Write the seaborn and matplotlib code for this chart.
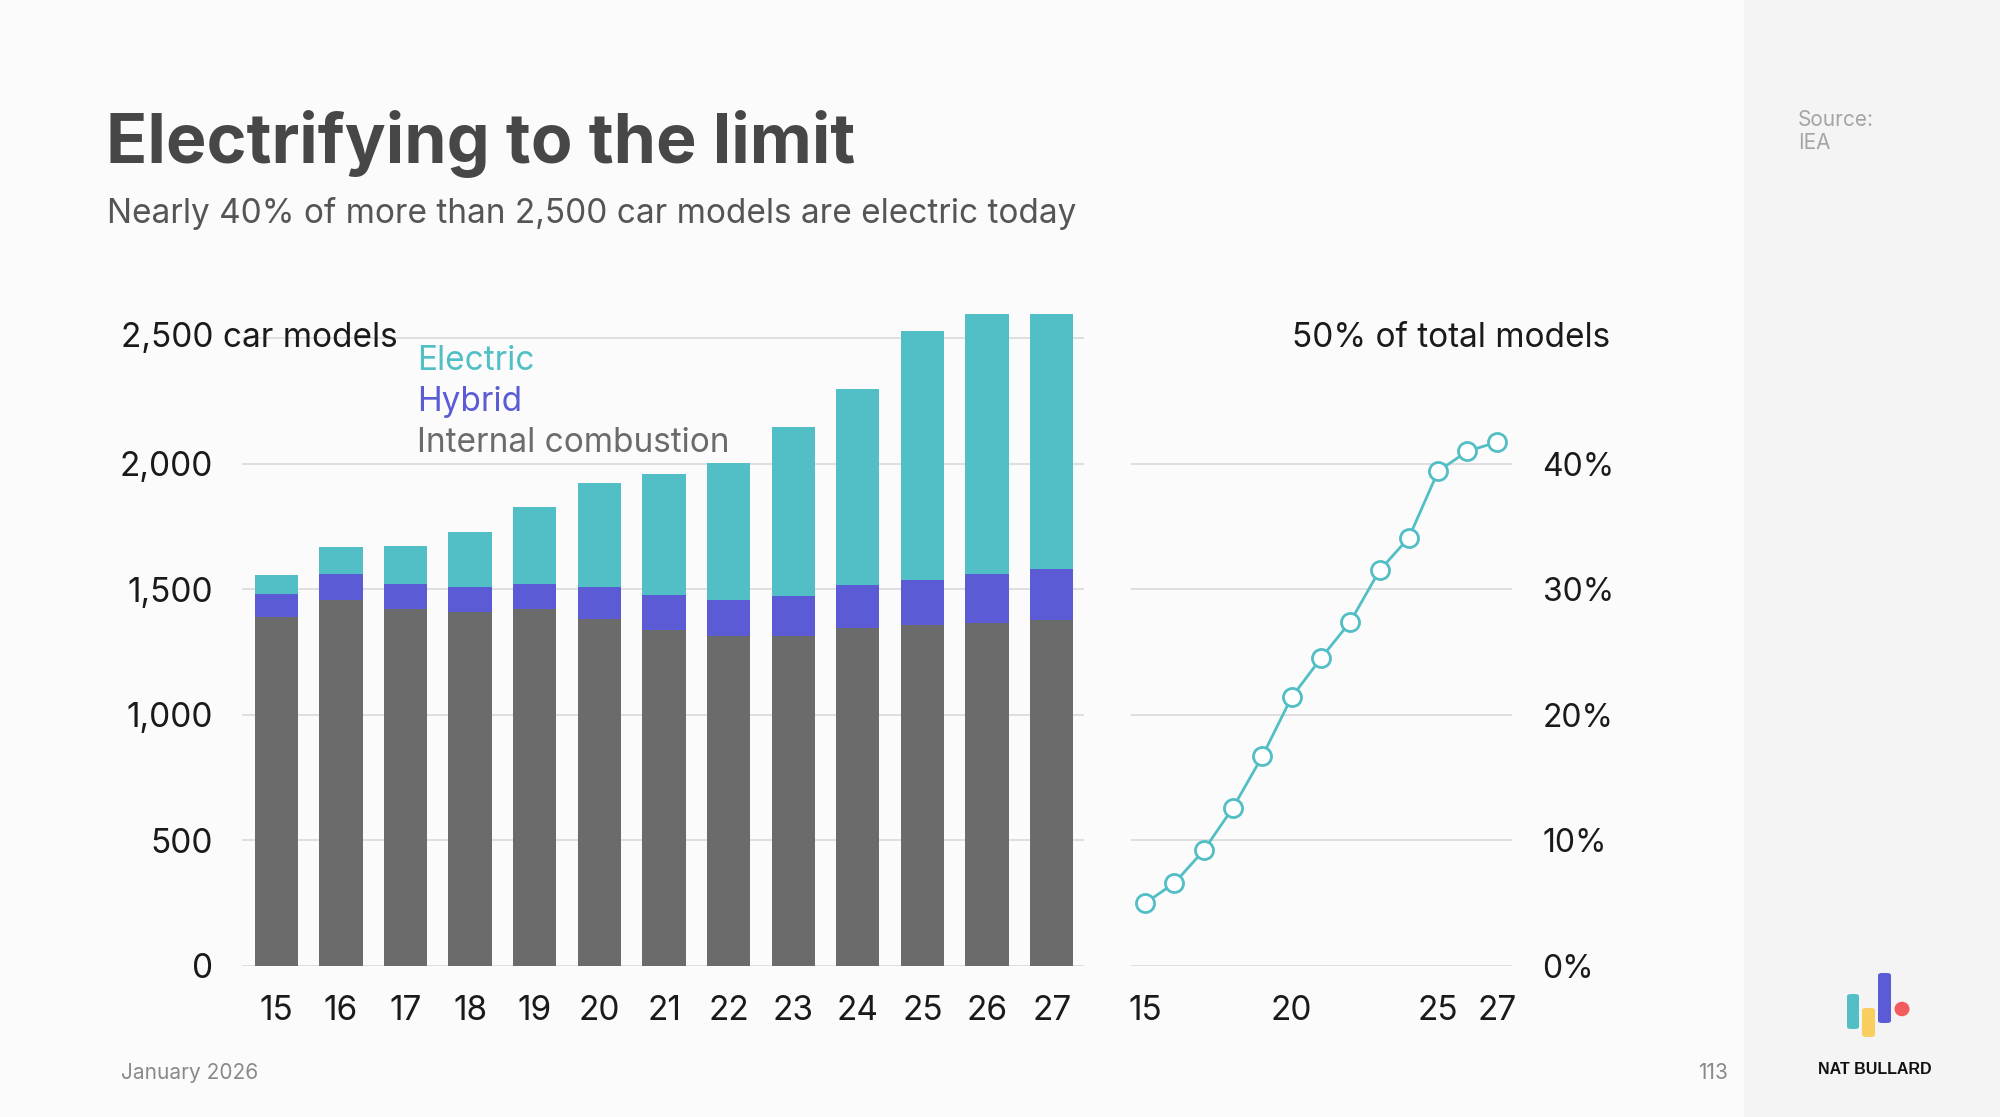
import matplotlib
matplotlib.use('Agg')
import matplotlib.pyplot as plt
import matplotlib.transforms as mtransforms
from matplotlib.patches import Rectangle, FancyBboxPatch, Ellipse
import seaborn as sns
import pandas as pd

# data
years = ['15', '16', '17', '18', '19', '20', '21', '22', '23', '24', '25', '26', '27']
ice = [1390, 1459, 1420, 1411, 1420, 1381, 1336, 1313, 1313, 1347, 1358, 1367, 1377]
hybrid = [92, 100, 101, 96, 101, 126, 143, 144, 162, 169, 179, 192, 203]
electric = [75, 108, 152, 221, 306, 415, 478, 547, 671, 781, 991, 1038, 1017]

share_years = [15, 16, 17, 18, 19, 20, 21, 22, 23, 24, 25, 26, 27]
electric_share = [5.0, 6.6, 9.2, 12.6, 16.7, 21.4, 24.5, 27.4, 31.5, 34.1, 39.4, 41.0, 41.7]

left_ticks = [0, 500, 1000, 1500, 2000, 2500]
left_labels = ['0', '500', '1,000', '1,500', '2,000', '']
right_ticks = [0, 10, 20, 30, 40, 50]
right_labels = ['0%', '10%', '20%', '30%', '40%', '']
right_xticks = [15, 20, 25, 27]

TEAL = '#52bec5'
BLUE = '#5a5bd5'
GRAY = '#6b6b6b'
GRID = '#dcdcdc'
INK = '#1a1a1a'

df = pd.DataFrame({'year': years, 'ice': ice, 'hybrid': hybrid, 'electric': electric})
df['ice_hybrid'] = df['ice'] + df['hybrid']
df['total'] = df['ice_hybrid'] + df['electric']
share_df = pd.DataFrame({'year': share_years, 'share': electric_share})

sns.set_theme(style='white')
plt.rcParams['font.family'] = ['Inter', 'DejaVu Sans']

fig = plt.figure(figsize=(20, 11.17), dpi=100)
fig.patch.set_facecolor('#fbfbfb')
fig.patches.append(Rectangle((0.872, 0), 0.128, 1, transform=fig.transFigure,
                             facecolor='#f4f4f4', edgecolor='none', zorder=0))

# stacked bars
ax = fig.add_axes([0.121, 0.1352, 0.421, 0.6071])
ax.set_facecolor('none')
sns.barplot(data=df, x='year', y='total', color=TEAL, width=0.67, saturation=1,
            errorbar=None, linewidth=0, ax=ax)
sns.barplot(data=df, x='year', y='ice_hybrid', color=BLUE, width=0.67, saturation=1,
            errorbar=None, linewidth=0, ax=ax)
sns.barplot(data=df, x='year', y='ice', color=GRAY, width=0.67, saturation=1,
            errorbar=None, linewidth=0, ax=ax)
ax.set_ylim(0, 2700)
ax.set_xlim(-0.53, 12.5)
ax.set_yticks(left_ticks)
ax.set_yticklabels(left_labels)
ax.yaxis.grid(True, color=GRID, linewidth=1.3)
ax.set_axisbelow(True)
ax.set_xlabel('')
ax.set_ylabel('')
sns.despine(ax=ax, left=True, bottom=True)
ax.tick_params(axis='y', length=0, pad=21, labelsize=24, labelcolor=INK)
ax.tick_params(axis='x', length=0, pad=21, labelsize=24, labelcolor=INK)

trans = mtransforms.blended_transform_factory(fig.transFigure, ax.transData)
ax.text(0.0605, 2500, '2,500 car models', transform=trans, fontsize=24, color=INK,
        ha='left', va='center')

ax.text(2.18, 2410, 'Electric', color=TEAL, fontsize=24, ha='left', va='center')
ax.text(2.18, 2246, 'Hybrid', color=BLUE, fontsize=24, ha='left', va='center')
ax.text(2.18, 2083, 'Internal combustion', color=GRAY, fontsize=24, ha='left', va='center')

# electric share line
ax2 = fig.add_axes([0.5655, 0.1352, 0.1905, 0.6071])
ax2.set_facecolor('none')
sns.lineplot(data=share_df, x='year', y='share', color=TEAL, linewidth=2, marker='o',
             markersize=13, markerfacecolor='white', markeredgecolor=TEAL,
             markeredgewidth=2, ax=ax2, zorder=3)
ax2.set_ylim(0, 54)
ax2.set_xlim(14.52, 27.52)
ax2.yaxis.tick_right()
ax2.set_yticks(right_ticks)
ax2.set_yticklabels(right_labels)
ax2.set_xticks(right_xticks)
ax2.set_xticklabels([str(v) for v in right_xticks])
ax2.yaxis.grid(True, color=GRID, linewidth=1.3)
ax2.yaxis.get_gridlines()[-1].set_visible(False)
ax2.set_axisbelow(True)
ax2.set_xlabel('')
ax2.set_ylabel('')
sns.despine(ax=ax2, left=True, bottom=True)
ax2.tick_params(axis='y', length=0, pad=22, labelsize=23, labelcolor=INK)
ax2.tick_params(axis='x', length=0, pad=21, labelsize=24, labelcolor=INK)

trans2 = mtransforms.blended_transform_factory(fig.transFigure, ax2.transData)
ax2.text(0.805, 50, '50% of total models', transform=trans2, fontsize=24,
         color=INK, ha='right', va='center')

# titles and page furniture
fig.text(0.053, 0.854, 'Electrifying to the limit', fontsize=49, fontweight='bold',
         color='#474747', ha='left', va='baseline')
fig.text(0.0535, 0.800, 'Nearly 40% of more than 2,500 car models are electric today',
         fontsize=24, color='#555555', ha='left', va='baseline')
fig.text(0.0605, 0.034, 'January 2026', fontsize=15, color='#8a8a8a', ha='left', va='baseline')
fig.text(0.864, 0.034, '113', fontsize=15, color='#8a8a8a', ha='right', va='baseline')
fig.text(0.899, 0.887, 'Source:', fontsize=15, color='#a5a5a5', ha='left', va='baseline')
fig.text(0.899, 0.867, 'IEA', fontsize=15, color='#a5a5a5', ha='left', va='baseline')
fig.text(0.9375, 0.0385, 'NAT BULLARD', fontsize=11.5, fontweight='bold',
         family=['Liberation Sans', 'DejaVu Sans'], color='#111111',
         ha='center', va='baseline')

# small logo
W, H = 2000.0, 1117.0
for (x0, x1, y0, y1, c) in [(1847, 1859, 994, 1029, TEAL),
                            (1862, 1875, 1008, 1037, '#f8cf5f'),
                            (1878, 1891, 973, 1023, BLUE)]:
    fig.patches.append(FancyBboxPatch((x0 / W, 1 - y1 / H), (x1 - x0) / W, (y1 - y0) / H,
                                      boxstyle='round,pad=0,rounding_size=0.002',
                                      transform=fig.transFigure, facecolor=c,
                                      edgecolor='none', zorder=2))
fig.patches.append(Ellipse((1902 / W, 1 - 1009 / H), 15 / W, 14.5 / H,
                           transform=fig.transFigure, facecolor='#f25c5c',
                           edgecolor='none', zorder=2))

fig.savefig('out.png', dpi=100, facecolor=fig.get_facecolor())
